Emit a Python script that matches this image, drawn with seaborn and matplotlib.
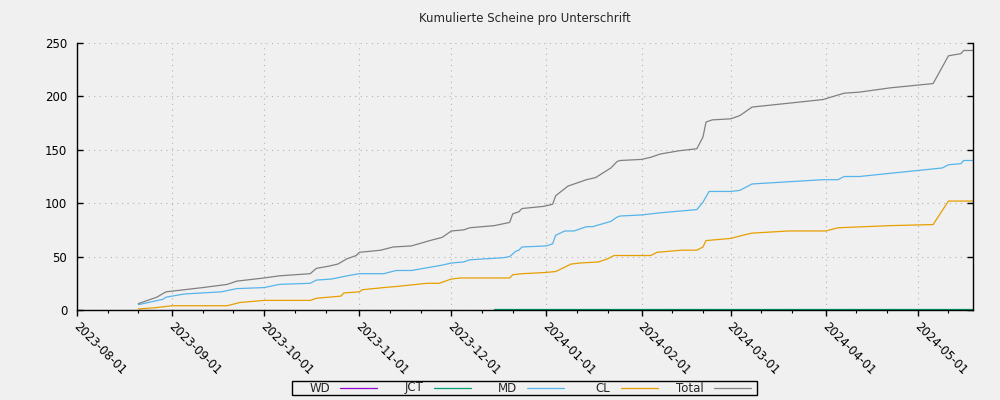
import pandas as pd
import matplotlib
matplotlib.use("Agg")
import matplotlib.pyplot as plt
import matplotlib.dates as mdates
import matplotlib.transforms as mtransforms
from matplotlib.lines import Line2D
from matplotlib.patches import Rectangle
import seaborn as sns

# Daten
series_names = ["WD", "JCT", "MD", "CL", "Total"]
colors = ["#9400d3", "#009e73", "#56b4e9", "#e69f00", "#808080"]

wd_dates = ["2023-12-15", "2024-05-19"]
wd_values = [0, 0]

jct_dates = ["2023-12-15", "2024-05-19"]
jct_values = [1, 1]

md_dates = ["2023-08-21", "2023-08-29", "2023-08-30", "2023-09-05", "2023-09-17",
            "2023-09-22", "2023-10-01", "2023-10-06", "2023-10-16", "2023-10-18",
            "2023-10-23", "2023-10-28", "2023-11-01", "2023-11-09", "2023-11-13",
            "2023-11-18", "2023-11-24", "2023-11-28", "2023-12-01", "2023-12-05",
            "2023-12-07", "2023-12-18", "2023-12-20", "2023-12-22", "2023-12-23",
            "2023-12-24", "2024-01-01", "2024-01-03", "2024-01-04", "2024-01-07",
            "2024-01-10", "2024-01-14", "2024-01-16", "2024-01-22", "2024-01-24",
            "2024-01-25", "2024-02-01", "2024-02-07", "2024-02-19", "2024-02-21",
            "2024-02-23", "2024-03-01", "2024-03-04", "2024-03-08", "2024-03-31",
            "2024-04-05", "2024-04-07", "2024-04-12", "2024-04-22", "2024-05-09",
            "2024-05-11", "2024-05-15", "2024-05-16", "2024-05-19"]
md_values = [5, 10, 12, 15, 17,
             20, 21, 24, 25, 28,
             29, 32, 34, 34, 37,
             37, 40, 42, 44, 45,
             47, 49, 50, 55, 56,
             59, 60, 62, 70, 74,
             74, 78, 78, 83, 87,
             88, 89, 91, 94, 101,
             111, 111, 112, 118, 122,
             122, 125, 125, 128, 133,
             136, 137, 140, 140]

cl_dates = ["2023-08-21", "2023-08-26", "2023-08-29", "2023-09-01", "2023-09-19",
            "2023-09-23", "2023-10-01", "2023-10-16", "2023-10-18", "2023-10-22",
            "2023-10-26", "2023-10-27", "2023-11-01", "2023-11-02", "2023-11-09",
            "2023-11-13", "2023-11-23", "2023-11-27", "2023-12-01", "2023-12-04",
            "2023-12-20", "2023-12-21", "2023-12-24", "2023-12-31", "2024-01-04",
            "2024-01-09", "2024-01-12", "2024-01-18", "2024-01-21", "2024-01-23",
            "2024-02-04", "2024-02-06", "2024-02-14", "2024-02-19", "2024-02-21",
            "2024-02-22", "2024-03-01", "2024-03-05", "2024-03-08", "2024-03-20",
            "2024-04-01", "2024-04-05", "2024-04-22", "2024-05-06", "2024-05-11",
            "2024-05-19"]
cl_values = [1, 2, 3, 4, 4,
             7, 9, 9, 11, 12,
             13, 16, 17, 19, 21,
             22, 25, 25, 29, 30,
             30, 33, 34, 35, 36,
             43, 44, 45, 48, 51,
             51, 54, 56, 56, 59,
             65, 67, 70, 72, 74,
             74, 77, 79, 80, 102,
             102]

total_dates = ["2023-08-21", "2023-08-27", "2023-08-30", "2023-09-05", "2023-09-11",
               "2023-09-19", "2023-09-22", "2023-10-01", "2023-10-06", "2023-10-16",
               "2023-10-18", "2023-10-22", "2023-10-25", "2023-10-28", "2023-10-31",
               "2023-11-01", "2023-11-08", "2023-11-12", "2023-11-18", "2023-11-24",
               "2023-11-28", "2023-12-01", "2023-12-05", "2023-12-07", "2023-12-15",
               "2023-12-20", "2023-12-21", "2023-12-23", "2023-12-24", "2023-12-31",
               "2024-01-03", "2024-01-04", "2024-01-08", "2024-01-14", "2024-01-17",
               "2024-01-22", "2024-01-24", "2024-01-25", "2024-02-01", "2024-02-04",
               "2024-02-07", "2024-02-13", "2024-02-19", "2024-02-21", "2024-02-22",
               "2024-02-24", "2024-03-01", "2024-03-04", "2024-03-08", "2024-03-31",
               "2024-04-07", "2024-04-12", "2024-04-22", "2024-05-06", "2024-05-11",
               "2024-05-15", "2024-05-16", "2024-05-19"]
total_values = [6, 12, 17, 19, 21,
                24, 27, 30, 32, 34,
                39, 41, 43, 48, 51,
                54, 56, 59, 60, 65,
                68, 74, 75, 77, 79,
                82, 90, 92, 95, 97,
                99, 107, 116, 122, 124,
                133, 139, 140, 141, 143,
                146, 149, 151, 162, 176,
                178, 179, 182, 190, 197,
                203, 204, 208, 212, 238,
                240, 243, 243]

bg = "#f0f0f0"
fs = 8.5

sns.set_theme(style="ticks")
plt.rcParams["font.family"] = ["DejaVu Sans"]
plt.rcParams["figure.facecolor"] = bg
plt.rcParams["axes.facecolor"] = bg

frames = []
for name, d, v in [("WD", wd_dates, wd_values), ("JCT", jct_dates, jct_values),
                   ("MD", md_dates, md_values), ("CL", cl_dates, cl_values),
                   ("Total", total_dates, total_values)]:
    frames.append(pd.DataFrame({"Datum": pd.to_datetime(d), "Anzahl": v, "Unterschrift": name}))
df = pd.concat(frames, ignore_index=True)

fig = plt.figure(figsize=(10, 4), dpi=100)
ax = fig.add_axes([0.077, 0.225, 0.896, 0.6675])

sns.lineplot(data=df, x="Datum", y="Anzahl", hue="Unterschrift",
             hue_order=series_names, palette=dict(zip(series_names, colors)),
             estimator=None, sort=True, linewidth=0.9, legend=False, ax=ax)

ax.set_xlim(pd.Timestamp("2023-08-01"), pd.Timestamp("2024-05-19"))
ax.set_ylim(0, 250)
ax.set_yticks(range(0, 251, 50))
ax.set_xlabel("")
ax.set_ylabel("")

ax.xaxis.set_major_locator(mdates.MonthLocator())
ax.xaxis.set_major_formatter(mdates.DateFormatter("%Y-%m-%d"))
ax.xaxis.set_minor_locator(mdates.DayLocator(bymonthday=[11, 21]))

ax.grid(True, which="major", color="#b4b4b4", linestyle=(0, (1, 4)), linewidth=0.8)

for s in ["left", "bottom", "right"]:
    ax.spines[s].set_color("black")
    ax.spines[s].set_linewidth(1.0)
    ax.spines[s].set_visible(True)
ax.spines["top"].set_visible(False)

ax.tick_params(axis="y", direction="in", length=4, width=1, left=True, right=True,
               labelsize=fs, colors="black", pad=7)
ax.tick_params(axis="x", which="major", direction="out", length=4, width=1,
               labelsize=fs, colors="black", pad=3)
ax.tick_params(axis="x", which="minor", direction="out", length=2, width=0.8,
               bottom=True, colors="black")
shift = mtransforms.ScaledTranslation(3 / 100, 0, fig.dpi_scale_trans)
for lbl in ax.get_xticklabels():
    lbl.set_rotation(-45)
    lbl.set_ha("left")
    lbl.set_va("top")
    lbl.set_rotation_mode("anchor")
    lbl.set_transform(lbl.get_transform() + shift)

ax.set_title("Kumulierte Scheine pro Unterschrift", fontsize=fs, pad=15)

# Legende im gnuplot-Stil: Text rechtsbündig, Linienmuster rechts daneben
W, H = 1000, 400
fig.add_artist(Rectangle((292 / W, 1 - 394.5 / H), 465 / W, 14 / H,
                         transform=fig.transFigure, facecolor=bg,
                         edgecolor="black", linewidth=1.0))
for i, (name, c) in enumerate(zip(series_names, colors)):
    xr = 330 + 93.5 * i
    fig.text(xr / W, 1 - 391.5 / H, name, ha="right", va="baseline", fontsize=fs)
    fig.add_artist(Line2D([(xr + 10) / W, (xr + 47) / W], [1 - 387.5 / H] * 2,
                          transform=fig.transFigure, color=c, linewidth=0.9))

plt.savefig("out.png", dpi=100, facecolor=bg)
